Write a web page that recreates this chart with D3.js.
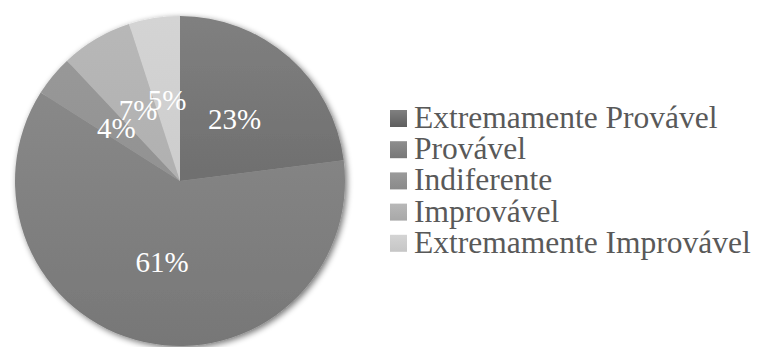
<!DOCTYPE html>
<html>
<head>
<meta charset="utf-8">
<script src="https://cdn.jsdelivr.net/npm/d3@7"></script>
<style>
html,body{margin:0;padding:0;background:#fff;}
svg{display:block;}
</style>
</head>
<body>
<svg id="chart" width="757" height="347"></svg>
<script>
const categories = ["Extremamente Provável","Provável","Indiferente","Improvável","Extremamente Improvável"];
const values = [23, 61, 4, 7, 5];
const labels = ["23%","61%","4%","7%","5%"];
const colorsTop = ["#808080","#8e8e8e","#9a9a9a","#b8b8b8","#d4d4d4"];
const colorsBottom = ["#5e5e5e","#777777","#8a8a8a","#a8a8a8","#c6c6c6"];

const svg = d3.select("#chart");
const cx = 180, cy = 181, r = 165;
const defs = svg.append("defs");

const f = defs.append("filter").attr("id","shadow").attr("x","-20%").attr("y","-20%").attr("width","140%").attr("height","140%");
f.append("feGaussianBlur").attr("in","SourceAlpha").attr("stdDeviation",3).attr("result","b");
f.append("feOffset").attr("in","b").attr("dx",2).attr("dy",2).attr("result","o");
f.append("feComponentTransfer").attr("in","o").attr("result","o2").append("feFuncA").attr("type","linear").attr("slope",0.55);
const m = f.append("feMerge");
m.append("feMergeNode").attr("in","o2");
m.append("feMergeNode").attr("in","SourceGraphic");

categories.forEach((c,i)=>{
  const g = defs.append("linearGradient").attr("id","pg"+i)
    .attr("gradientUnits","userSpaceOnUse").attr("x1",0).attr("y1",-r).attr("x2",0).attr("y2",r);
  g.append("stop").attr("offset","0%").attr("stop-color",colorsTop[i]);
  g.append("stop").attr("offset","100%").attr("stop-color",colorsBottom[i]);
  const lg = defs.append("linearGradient").attr("id","lg"+i).attr("x1",0).attr("y1",0).attr("x2",0).attr("y2",1);
  lg.append("stop").attr("offset","0%").attr("stop-color",colorsTop[i]);
  lg.append("stop").attr("offset","100%").attr("stop-color",colorsBottom[i]);
});

const pie = d3.pie().sort(null).value(d=>d)(values);
const arc = d3.arc().innerRadius(0).outerRadius(r);
const g = svg.append("g").attr("transform",`translate(${cx},${cy})`);
g.append("g").attr("filter","url(#shadow)").selectAll("path").data(pie).join("path")
  .attr("d",arc).attr("fill",(d,i)=>`url(#pg${i})`);

const labelArc = d3.arc().innerRadius(r*0.5).outerRadius(r*0.5);
g.selectAll("text.lbl").data(pie).join("text").attr("class","lbl")
  .attr("x",d=>labelArc.centroid(d)[0])
  .attr("y",d=>labelArc.centroid(d)[1])
  .attr("text-anchor","middle").attr("dominant-baseline","central")
  .attr("font-family","'Liberation Serif','Times New Roman',serif")
  .attr("font-size",29).attr("fill","#ffffff")
  .text((d,i)=>labels[i]);

const leg = svg.append("g");
const lx = 390, ly0 = 110, step = 31.2, sq = 17;
categories.forEach((c,i)=>{
  leg.append("rect").attr("x",lx).attr("y",ly0+i*step).attr("width",sq).attr("height",sq).attr("fill",`url(#lg${i})`);
  leg.append("text").attr("x",lx+24).attr("y",ly0+i*step+sq+1)
    .attr("font-family","'Liberation Serif','Times New Roman',serif")
    .attr("font-size",31.5).attr("fill","#595959").text(c);
});
</script>
</body>
</html>
